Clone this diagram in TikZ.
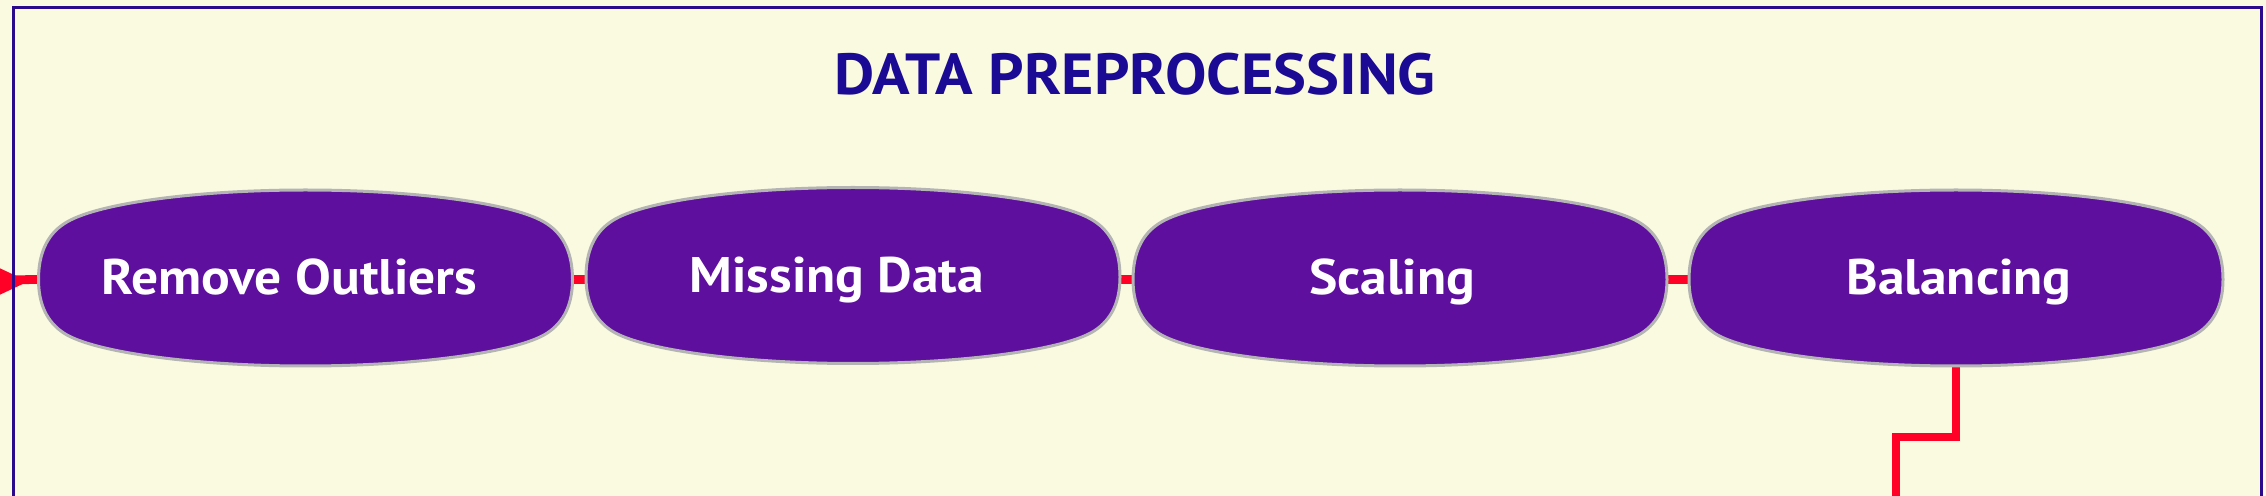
\documentclass[tikz,border=0pt]{standalone}
\usepackage{fontspec}
\setmainfont{PT Sans}[FakeStretch=1.07]
\usetikzlibrary{calc}
\definecolor{bg}{HTML}{FAFAE1}
\definecolor{framec}{HTML}{2C0A8C}
\definecolor{titlec}{HTML}{1B0A94}
\definecolor{pillfill}{HTML}{5E0F9E}
\definecolor{pillline}{HTML}{B4B4B4}
\definecolor{connc}{HTML}{FF0026}
\tikzset{
  pillpath/.style={fill=pillfill, draw=pillline, line width=1.5pt},
  box/.style={inner sep=0pt, minimum width=268pt, minimum height=88pt},
  lbl/.style={text=white, font=\bfseries\fontsize{25}{30}\selectfont, anchor=base, inner sep=0pt},
  ttl/.style={text=titlec, font=\bfseries\fontsize{29}{34}\selectfont, anchor=base, inner sep=0pt},
  conn/.style={draw=connc, line width=4.4pt},
  frameline/.style={draw=framec, line width=1.8pt}
}
\newcommand{\pillat}[1]{%
  \path[pillpath, shift={(#1)}] (-267,0) .. controls (-267,-25) and (-259,-44.5) .. (-241,-56)
    .. controls (-211,-76) and (-110,-89.5) .. (0,-89.5)
    .. controls (110,-89.5) and (211,-76) .. (241,-56)
    .. controls (259,-44.5) and (267,-25) .. (267,0)
    .. controls (267,24) and (259,42.5) .. (241,54)
    .. controls (211,73) and (110,86.5) .. (0,86.5)
    .. controls (-110,86.5) and (-211,73) .. (-241,54)
    .. controls (-259,42.5) and (-267,24) .. (-267,0) -- cycle;}
\begin{document}
\begin{tikzpicture}[x=0.5pt,y=-0.5pt]
\useasboundingbox (0,0) rectangle (2266,496);
\clip (0,0) rectangle (2266,496);
\fill[bg] (0,0) rectangle (2266,496);
% title
\node[ttl] (title) at (1135,95) {DATA PREPROCESSING};
% node boxes (invisible anchors)
\node[box] (n1) at (305.5,279.5) {};
\node[box] (n2) at (853,277) {};
\node[box] (n3) at (1400,279.5) {};
\node[box] (n4) at (1956,279.5) {};
% connectors
\coordinate (inl) at (-40,280.5);
\coordinate (tip) at (28,281.5);
\draw[conn] (inl) -- (n1.west);
\fill[connc] (tip) -- ++(-34,-16) -- ++(0,32) -- cycle;
\draw[conn] (n1.east) -- (n1.east -| n2.west);
\draw[conn] (n2.east |- n3.west) -- (n3.west);
\draw[conn] (n3.east) -- (n4.west);
\coordinate (bend) at (1896,437);
\coordinate (outb) at (1896,540);
\draw[conn] (n4.center) |- (bend) -- (outb);
% pills
\pillat{305.5,279.5}
\pillat{853,277}
\pillat{1400,279.5}
\pillat{1956,279.5}
% labels
\node[lbl] (t1) at (289.5,295) {Remove Outliers};
\node[lbl] (t2) at (837,292.5) {Missing Data};
\node[lbl] (t3) at (1392,295) {Scaling};
\node[lbl] (t4) at (1959,295) {Balancing};
% frame
\draw[frameline] (13.5,600) -- (13.5,7.5) -- (2261.5,7.5) -- (2261.5,600);
\end{tikzpicture}
\end{document}
